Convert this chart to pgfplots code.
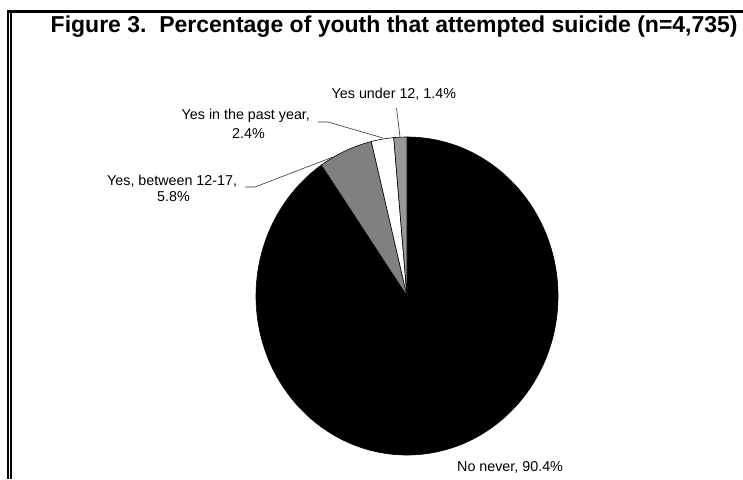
\documentclass[border=0pt]{standalone}
\usepackage{pgfplots}
\pgfplotsset{compat=1.18}
\usepackage{fontspec}
\setmainfont{Liberation Sans}
\definecolor{slicegray}{RGB}{128,128,128}
\definecolor{slicelight}{RGB}{152,152,152}
\begin{document}
\begin{tikzpicture}
% slice values (percent)
\def\vA{90.4}\def\vB{5.8}\def\vC{2.4}\def\vD{1.4}
\pgfmathsetmacro\aA{90-3.6*\vA}
\pgfmathsetmacro\aB{\aA-3.6*\vB}
\pgfmathsetmacro\aC{\aB-3.6*\vC}
\pgfmathsetmacro\aD{\aC-3.6*\vD}
\begin{axis}[
  scale only axis, width=743pt, height=479pt,
  xmin=0, xmax=743, ymin=0, ymax=479, y dir=reverse,
  hide axis, clip=false,
]
% full canvas
\path (axis cs:0,0) rectangle (axis cs:743,479);
% frame lines
\fill[black] (axis cs:7.3,10) rectangle (axis cs:743,12.7);
\fill[black] (axis cs:7.3,10) rectangle (axis cs:9,479);
\fill[black] (axis cs:10,12.7) rectangle (axis cs:11.7,479);
% title
\node[anchor=base west, inner sep=0, font=\fontsize{23}{27}\selectfont\bfseries] at (axis cs:50.5,32) {Figure 3.\ \ Percentage of youth that attempted suicide (n=4,735)};
% pie
\filldraw[fill=black, draw=black, line width=0.6pt] (axis cs:407,296) -- ++(90:151pt and 159pt) arc[start angle=90, end angle=\aA, x radius=151pt, y radius=159pt] -- cycle;
\filldraw[fill=slicegray, draw=black, line width=0.6pt] (axis cs:407,296) -- ++(\aA:151pt and 159pt) arc[start angle=\aA, end angle=\aB, x radius=151pt, y radius=159pt] -- cycle;
\filldraw[fill=white, draw=black, line width=0.6pt] (axis cs:407,296) -- ++(\aB:151pt and 159pt) arc[start angle=\aB, end angle=\aC, x radius=151pt, y radius=159pt] -- cycle;
\filldraw[fill=slicelight, draw=black, line width=0.6pt] (axis cs:407,296) -- ++(\aC:151pt and 159pt) arc[start angle=\aC, end angle=\aD, x radius=151pt, y radius=159pt] -- cycle;
% leader lines
\draw[line width=0.6pt, black!80] (axis cs:396.5,108) -- (axis cs:400,137);
\draw[line width=0.6pt, black!80] (axis cs:318,122) -- (axis cs:328,122) -- (axis cs:383,138);
\draw[line width=0.6pt, black!80] (axis cs:245,187) -- (axis cs:255,187) -- (axis cs:333,157);
% labels
\begin{scope}[every node/.style={inner sep=0, font=\fontsize{14.3}{17}\selectfont}]
\node[anchor=base west] at (axis cs:331.5,98) {Yes under 12, 1.4\%};
\node[anchor=base west] at (axis cs:181.5,119) {Yes in the past year,};
\node[anchor=base] at (axis cs:248.5,138) {2.4\%};
\node[anchor=base west] at (axis cs:107,185) {Yes, between 12-17,};
\node[anchor=base] at (axis cs:173.5,201.5) {5.8\%};
\node[anchor=base west] at (axis cs:457,471.7) {No never, 90.4\%};
\end{scope}
\end{axis}
\end{tikzpicture}
\end{document}
